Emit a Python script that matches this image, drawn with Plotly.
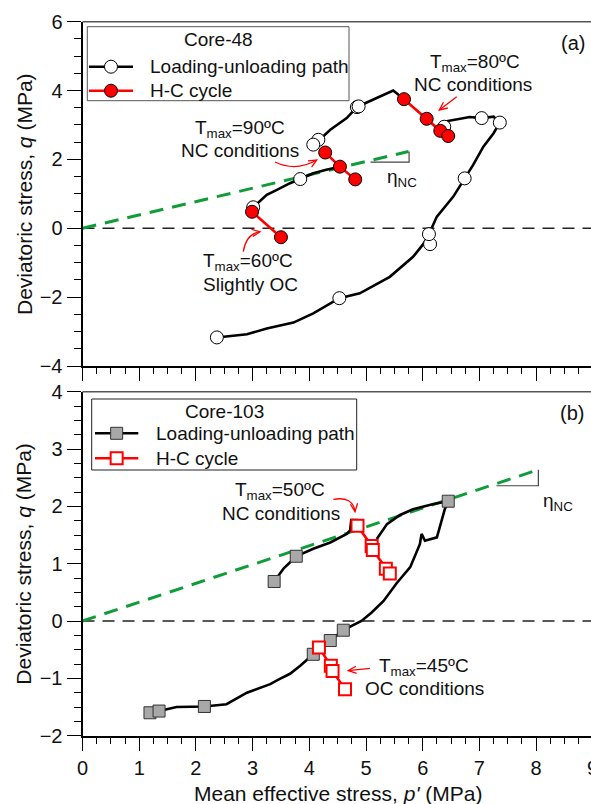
import math
import plotly.graph_objects as go

W, H = 591, 804

# ---------------- data ----------------
# Core-48 loading-unloading path (p', q), segments separated by None
path48_p = [3.01, 3.25, 3.42, 3.66, 3.84, 4.07, 4.30, 4.54, None,
            4.10, 4.37, 4.66, 4.84, 5.10, 5.25, 5.48, 5.67, None,
            6.38, 6.39, 6.83, 7.04, 7.25, 7.36, 7.25, 7.07, 6.89, 6.74, 6.69, 6.54,
            6.25, 6.11, 6.02, 5.83, 5.42, 4.89, 4.53, 4.07, 3.72, 3.48, 3.25, 2.90, 2.37]
path48_q = [0.61, 0.97, 1.11, 1.31, 1.43, 1.60, 1.70, 1.79, None,
            2.45, 2.86, 3.20, 3.52, 3.72, 3.83, 4.00, 3.75, None,
            2.95, 3.10, 3.23, 3.20, 3.24, 3.07, 2.76, 2.37, 1.84, 1.45, 1.31, 0.92,
            0.34, -0.17, -0.44, -0.83, -1.41, -1.89, -2.03, -2.47, -2.74, -2.83, -2.91, -3.08, -3.17]
# Core-48 loading-unloading markers
lu48_p = [2.37, 4.53, 6.13, 6.11, 6.74, 7.36, 7.04, 6.38, 4.84, 4.87, 4.16, 4.07, 3.84, 3.01]
lu48_q = [-3.17, -2.03, -0.46, -0.17, 1.45, 3.07, 3.20, 2.95, 3.52, 3.54, 2.57, 2.43, 1.43, 0.61]
# Core-48 H-C cycles
hc48_p = [2.99, 3.50, None, 4.28, 4.54, 4.81, None, 5.67, 6.07, 6.31, 6.45]
hc48_q = [0.48, -0.26, None, 2.20, 1.79, 1.42, None, 3.75, 3.18, 2.83, 2.68]
# Core-48 NC line and slope triangle
nc48_p = [0.0, 5.75]
nc48_q = [0.0, 2.23]
eta48_p = [5.08, 5.76, 5.76]
eta48_q = [1.92, 1.92, 2.23]

# Core-103 loading-unloading path
path103_p = [3.38, 3.55, 3.77, 4.07, 4.37, 4.66, 4.72, 4.74, 4.86, None,
             5.19, 5.37, 5.60, 5.83, 6.19, 6.45, 6.39, 6.25, 6.04, 5.98, 5.95, 5.78, 5.54,
             5.31, 5.10, 4.92, 4.60, 4.37, 4.07, 3.84, 3.66, 3.48, 3.31, 2.90, 2.54, 2.15,
             1.66, 1.35, 1.19]
path103_q = [0.69, 0.92, 1.13, 1.26, 1.37, 1.52, 1.58, 1.76, 1.76, None,
             1.43, 1.69, 1.85, 1.95, 2.04, 2.09, 1.95, 1.46, 1.40, 1.52, 1.34, 0.94, 0.66,
             0.35, 0.15, 0.00, -0.16, -0.34, -0.58, -0.78, -0.92, -1.01, -1.10, -1.25, -1.45, -1.49,
             -1.50, -1.57, -1.60]
lu103_p = [1.19, 1.35, 2.15, 3.38, 3.77, 6.45, 4.60, 4.37, 4.07]
lu103_q = [-1.60, -1.57, -1.49, 0.69, 1.13, 2.09, -0.16, -0.34, -0.58]
hc103_p = [4.85, 5.10, 5.12, 5.35, 5.42, None, 4.17, 4.38, 4.41, 4.63]
hc103_q = [1.66, 1.31, 1.24, 0.91, 0.83, None, -0.46, -0.78, -0.87, -1.19]
nc103_p = [0.0, 8.04]
nc103_q = [0.0, 2.64]
eta103_p = [7.30, 8.04, 8.04]
eta103_q = [2.36, 2.36, 2.64]

zero_p = [0, 9]
zero_q = [0, 0]

x_ticks = [0, 1, 2, 3, 4, 5, 6, 7, 8, 9]
y1_ticks = [-4, -2, 0, 2, 4, 6]
y2_ticks = [-2, -1, 0, 1, 2, 3, 4]

legend_labels = ["Loading-unloading path", "H-C cycle"]

# ---------------- styling ----------------
FONT = "Liberation Sans, Arial, sans-serif"
TXT = "#111111"
RED = "#ff0000"
GREEN = "#119c3a"
GREY_SQ = "#a8a8a8"


def PX(x):
    return x / W


def PY(y):
    return 1 - y / H


X0 = 82.5
PPU = 56.7
XR = (W - X0) / PPU

fig = go.Figure()


def add_panel(xa, ya, zero, nc, eta, path, lu, hc, lu_marker, hc_marker, names):
    fig.add_trace(go.Scatter(x=zero[0], y=zero[1], mode="lines", xaxis=xa, yaxis=ya,
                             line=dict(color="#222", width=1.5, dash="12px,8px"),
                             showlegend=False, hoverinfo="skip"))
    fig.add_trace(go.Scatter(x=nc[0], y=nc[1], mode="lines", xaxis=xa, yaxis=ya,
                             line=dict(color=GREEN, width=3, dash="14px,9px"),
                             showlegend=False, hoverinfo="skip"))
    fig.add_trace(go.Scatter(x=eta[0], y=eta[1], mode="lines", xaxis=xa, yaxis=ya,
                             line=dict(color="#444", width=1.2),
                             showlegend=False, hoverinfo="skip"))
    fig.add_trace(go.Scatter(x=path[0], y=path[1], mode="lines", xaxis=xa, yaxis=ya,
                             line=dict(color="black", width=2.6), name=names[0],
                             showlegend=False, connectgaps=False))
    fig.add_trace(go.Scatter(x=lu[0], y=lu[1], mode="markers", xaxis=xa, yaxis=ya,
                             marker=lu_marker, name=names[0], showlegend=False))
    fig.add_trace(go.Scatter(x=hc[0], y=hc[1], mode="lines+markers", xaxis=xa, yaxis=ya,
                             line=dict(color=RED, width=2.6), marker=hc_marker,
                             name=names[1], showlegend=False, connectgaps=False))


m_lu48 = dict(symbol="circle", size=13, color="white", line=dict(color="black", width=1))
m_hc48 = dict(symbol="circle", size=13, color=RED, line=dict(color="black", width=1))
m_lu103 = dict(symbol="square", size=12, color=GREY_SQ, line=dict(color="#333", width=1))
m_hc103 = dict(symbol="square", size=12, color="white", line=dict(color=RED, width=2))

add_panel("x", "y", (zero_p, zero_q), (nc48_p, nc48_q), (eta48_p, eta48_q),
          (path48_p, path48_q), (lu48_p, lu48_q), (hc48_p, hc48_q), m_lu48, m_hc48,
          legend_labels)
add_panel("x2", "y2", (zero_p, zero_q), (nc103_p, nc103_q), (eta103_p, eta103_q),
          (path103_p, path103_q), (lu103_p, lu103_q), (hc103_p, hc103_q), m_lu103, m_hc103,
          legend_labels)

# ---------------- axes ----------------
xdom = [PX(X0), 1.0]
y1dom = [PY(366.0), PY(21.7)]
y2dom = [PY(735.7), PY(391.7)]

common_x = dict(range=[0, XR], tickvals=x_ticks, ticks="outside", ticklen=13, tickwidth=1.2,
                tickcolor="black", showline=True, linecolor="black", linewidth=2,
                showgrid=False, zeroline=False, fixedrange=True, automargin=False,
                minor=dict(dtick=0.25, tick0=0, ticks="outside", ticklen=6, tickwidth=1.2,
                           tickcolor="black", showgrid=False),
                tickfont=dict(family=FONT, size=20, color=TXT))
common_y = dict(ticks="outside", ticklen=14, tickwidth=1.2, tickcolor="black",
                showline=True, linecolor="black", linewidth=2, showgrid=False,
                zeroline=False, fixedrange=True, automargin=False,
                tickfont=dict(family=FONT, size=20, color=TXT))

fig.update_layout(
    template="none",
    width=W, height=H,
    margin=dict(l=0, r=0, t=0, b=0, pad=0, autoexpand=False),
    paper_bgcolor="white", plot_bgcolor="white",
    font=dict(family=FONT, color=TXT, size=19),
    showlegend=False,
    xaxis=dict(domain=xdom, anchor="y", showticklabels=False, **common_x),
    yaxis=dict(domain=y1dom, anchor="x", range=[-4, 6], tickvals=y1_ticks,
               minor=dict(dtick=0.5, tick0=0, ticks="outside", ticklen=7, tickwidth=1.2,
                          tickcolor="black", showgrid=False),
               **common_y),
    xaxis2=dict(domain=xdom, anchor="y2", showticklabels=True, **common_x),
    yaxis2=dict(domain=y2dom, anchor="x2", range=[-2, 4], tickvals=y2_ticks,
                minor=dict(dtick=0.25, tick0=0, ticks="outside", ticklen=7, tickwidth=1.2,
                           tickcolor="black", showgrid=False),
                **common_y),
)

shapes = []
annotations = []


def line_px(x0, y0, x1, y1, color, width, layer="above"):
    shapes.append(dict(type="line", xref="paper", yref="paper", x0=PX(x0), x1=PX(x1),
                       y0=PY(y0), y1=PY(y1), line=dict(color=color, width=width), layer=layer))


def txt(s, x, y, size=19, xanchor="center", **kw):
    annotations.append(dict(text=s, x=PX(x), y=PY(y), xref="paper", yref="paper",
                            showarrow=False, xanchor=xanchor, yanchor="middle",
                            font=dict(family=FONT, size=size, color=TXT), **kw))


def head(tip, frm, length=8, half=3.6):
    dx, dy = tip[0] - frm[0], tip[1] - frm[1]
    n = math.hypot(dx, dy)
    ux, uy = dx / n, dy / n
    bx, by = tip[0] - length * ux, tip[1] - length * uy
    p1 = (bx - half * uy, by + half * ux)
    p2 = (bx + half * uy, by - half * ux)
    shapes.append(dict(type="path", xref="paper", yref="paper",
                       path=(f"M {PX(p1[0])},{PY(p1[1])} L {PX(tip[0])},{PY(tip[1])} "
                             f"L {PX(p2[0])},{PY(p2[1])}"),
                       line=dict(color=RED, width=1.3)))


def curve_arrow(p0, c, p1):
    shapes.append(dict(type="path", xref="paper", yref="paper",
                       path=(f"M {PX(p0[0])},{PY(p0[1])} Q {PX(c[0])},{PY(c[1])} "
                             f"{PX(p1[0])},{PY(p1[1])}"),
                       line=dict(color=RED, width=1.3)))
    head(p1, c)


def straight_arrow(p0, p1):
    line_px(p0[0], p0[1], p1[0], p1[1], RED, 1.3)
    head(p1, p0)


# frame top lines
line_px(X0, 21.7, W, 21.7, "#555", 1.5)
line_px(X0, 391.7, W, 391.7, "#555", 1.5)

# arrows
curve_arrow((275, 162), (296, 172), (316.7, 160))        # 90 C
curve_arrow((243.3, 251.7), (246, 234), (260, 231.7))    # 60 C
curve_arrow((333.3, 499.3), (353, 496), (355, 511.7))    # 50 C
straight_arrow((456.7, 96.7), (439.3, 110))              # 80 C
straight_arrow((370, 668.3), (348.3, 670.7))             # 45 C


# legends drawn as boxes
def legend_box(x0, y0, x1, y1, border, title, ty, rows, sym_x0, sym_x1, text_x, kind):
    shapes.append(dict(type="rect", xref="paper", yref="paper", x0=PX(x0), x1=PX(x1),
                       y0=PY(y1), y1=PY(y0), line=dict(color=border, width=1),
                       fillcolor="white", layer="above"))
    txt(title, (x0 + x1) / 2, ty)
    cx = (sym_x0 + sym_x1) / 2
    for (ry, label, lcolor, fill, edge, ew) in rows:
        line_px(sym_x0, ry, sym_x1, ry, lcolor, 2.6)
        r = 6.5 if kind == "circle" else 6.0
        shapes.append(dict(type=kind, xref="paper", yref="paper",
                           x0=PX(cx - r), x1=PX(cx + r), y0=PY(ry + r), y1=PY(ry - r),
                           fillcolor=fill, line=dict(color=edge, width=ew), layer="above"))
        txt(label, text_x, ry, xanchor="left")


legend_box(87.3, 26.7, 349, 100.7, "#555", "Core-48", 39.3,
           [(66.7, legend_labels[0], "black", "white", "black", 1),
            (90.7, legend_labels[1], RED, RED, "black", 1)],
           89, 133, 147.5, "circle")
legend_box(91.7, 399, 356.7, 470, "#222", "Core-103", 411.7,
           [(433.3, legend_labels[0], "black", GREY_SQ, "#333", 1),
            (458.3, legend_labels[1], RED, "white", RED, 2)],
           95, 138.3, 153.5, "rect")

# texts
txt("(a)", 572.7, 43.3, size=20)
txt("T<sub>max</sub>=90ºC", 240, 129)
txt("NC conditions", 240, 150)
txt("T<sub>max</sub>=80ºC", 475, 63.5)
txt("NC conditions", 473.3, 85)
txt("T<sub>max</sub>=60ºC", 248.3, 262)
txt("Slightly OC", 250, 284)
txt("η<sub>NC</sub>", 401.7, 178)
txt("(b)", 571.7, 413.3, size=20)
txt("T<sub>max</sub>=50ºC", 280, 491)
txt("NC conditions", 280.5, 513)
txt("T<sub>max</sub>=45ºC", 424, 667)
txt("OC conditions", 424, 688.3)
txt("η<sub>NC</sub>", 558.3, 502)
txt("Deviatoric stress, <i>q</i> (MPa)", 24, 194, size=21, textangle=-90)
txt("Deviatoric stress, <i>q</i> (MPa)", 24, 563.7, size=21, textangle=-90)
txt("Mean effective stress, <i>p'</i> (MPa)", 337.5, 793, size=21)
txt("9", 592.5, 768, size=20)

fig.update_layout(shapes=shapes, annotations=annotations)

fig.write_html("out.html")
